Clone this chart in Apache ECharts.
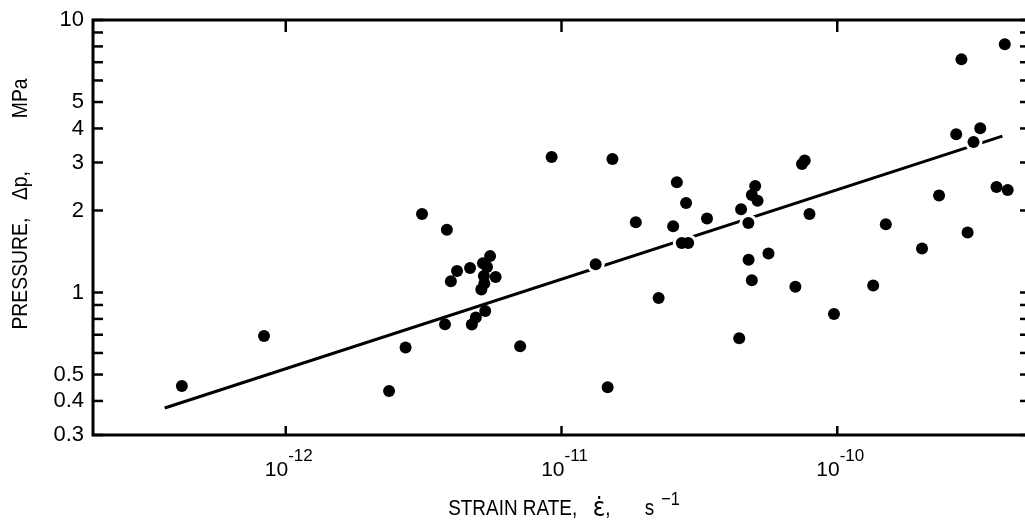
<!DOCTYPE html>
<html><head><meta charset="utf-8">
<script src="https://cdn.jsdelivr.net/npm/echarts@6/dist/echarts.min.js"></script>
<style>html,body{margin:0;padding:0;background:#fff}#c{width:1025px;height:525px}</style>
</head><body><div id="c"></div>
<script>
// ---- data (strain rate in s^-1, pressure in MPa) ----
const strainRate = [
  4.20e-13, 8.34e-13, 2.37e-12, 2.72e-12, 3.12e-12, 3.84e-12, 3.78e-12, 3.97e-12, 4.18e-12, 4.66e-12,
  4.73e-12, 4.89e-12, 5.29e-12, 5.12e-12, 5.25e-12, 5.23e-12, 5.77e-12, 5.37e-12, 5.19e-12, 5.51e-12,
  7.08e-12, 9.21e-12, 1.33e-11, 1.53e-11, 1.47e-11, 1.86e-11, 2.25e-11, 2.62e-11, 2.83e-11, 2.54e-11,
  2.73e-11, 2.88e-11, 3.37e-11, 4.48e-11, 4.41e-11, 5.04e-11, 4.90e-11, 5.14e-11, 4.76e-11, 4.77e-11,
  4.90e-11, 5.63e-11, 7.05e-11, 7.45e-11, 7.62e-11, 7.93e-11, 9.73e-11, 1.35e-10, 1.50e-10, 2.03e-10,
  2.34e-10, 2.70e-10, 2.82e-10, 2.97e-10, 3.12e-10, 3.30e-10, 3.78e-10, 4.05e-10, 4.15e-10
];
const pressure = [
  0.454, 0.692, 0.435, 0.628, 1.94, 1.70, 0.764, 1.10, 1.20, 1.23,
  0.763, 0.810, 0.855, 1.025, 1.08, 1.15, 1.14, 1.24, 1.28, 1.36,
  0.635, 3.14, 1.27, 3.09, 0.449, 1.81, 0.955, 2.54, 2.13, 1.75,
  1.52, 1.52, 1.87, 2.02, 0.679, 2.46, 2.28, 2.17, 1.80, 1.32,
  1.11, 1.39, 1.05, 2.96, 3.05, 1.94, 0.834, 1.06, 1.78, 1.45,
  2.27, 3.81, 7.17, 1.66, 3.57, 4.01, 2.44, 8.15, 2.38
];
const fitStrain = [3.64e-13, 3.97e-10];
const fitPressure = [0.377, 3.75];

const xTickValues = [1e-12, 1e-11, 1e-10];
const xTickExponents = ['-12', '-11', '-10'];
const yTickValues = [0.3, 0.4, 0.5, 0.6, 0.7, 0.8, 0.9, 1, 2, 3, 4, 5, 6, 7, 8, 9, 10];
const yLabelValues = [0.3, 0.4, 0.5, 1, 2, 3, 4, 5, 10];
const yLabelTexts = ['0.3', '0.4', '0.5', '1', '2', '3', '4', '5', '10'];
const X_MIN = 2e-13, X_MAX = 5e-10, Y_MIN = 0.3, Y_MAX = 10;

const FONT = 'Liberation Sans';
const points = strainRate.map((x, i) => [x, pressure[i]]);
const fitLine = fitStrain.map((x, i) => [x, fitPressure[i]]);

// points sitting on the fitted line get a white halo that breaks the line
const lx0 = Math.log10(fitStrain[0]), ly0 = Math.log10(fitPressure[0]);
const slope = (Math.log10(fitPressure[1]) - ly0) / (Math.log10(fitStrain[1]) - lx0);
const haloPoints = points.filter(p => {
  const d = Math.log10(p[1]) - (ly0 + slope * (Math.log10(p[0]) - lx0));
  return Math.abs(d) < 0.022 && p[0] > fitStrain[0] && p[0] < fitStrain[1];
});

const chart = echarts.init(document.getElementById('c'), null, {renderer: 'canvas'});
const hiddenAxis = {
  axisLine: {show: false}, axisTick: {show: false}, axisLabel: {show: false}, splitLine: {show: false}
};
chart.setOption({
  animation: false,
  backgroundColor: '#fff',
  grid: {left: 93, top: 20, right: -5, bottom: 90, show: true, borderColor: '#000', borderWidth: 3,
         containLabel: false, outerBoundsMode: 'none'},
  xAxis: Object.assign({type: 'log', logBase: 10, min: X_MIN, max: X_MAX}, hiddenAxis),
  yAxis: Object.assign({type: 'log', logBase: 10, min: Y_MIN, max: Y_MAX}, hiddenAxis),
  graphic: [
    {
      type: 'text', x: 564, y: 509, scaleX: 0.86, silent: true,
      style: {
        text: '{a|STRAIN RATE,}{g|}{e|ε̇}{a|,}{h|}{a|s}{k|}{s|−1}',
        align: 'center', verticalAlign: 'middle', fill: '#000',
        rich: {
          a: {fontSize: 22, fontFamily: FONT, lineHeight: 38, fill: '#000'},
          e: {fontSize: 27, fontFamily: 'DejaVu Sans', lineHeight: 38, fill: '#000'},
          g: {width: 18, lineHeight: 38},
          h: {width: 40, lineHeight: 38},
          k: {width: 8, lineHeight: 38},
          s: {fontSize: 19, fontFamily: FONT, lineHeight: 18, verticalAlign: 'top', fill: '#000'}
        }
      }
    },
    {
      type: 'text', x: 21, y: 204, rotation: Math.PI / 2, scaleX: 0.88, silent: true,
      style: {
        text: '{a|PRESSURE,}{g|}{a|Δp,}{h|}{a|MPa}',
        align: 'center', verticalAlign: 'middle', fill: '#000',
        rich: {
          a: {fontSize: 22, fontFamily: FONT, fill: '#000'},
          g: {width: 20},
          h: {width: 60}
        }
      }
    }
  ],
  series: [
    {
      type: 'line', data: fitLine, symbol: 'none', z: 2, silent: true,
      lineStyle: {color: '#000', width: 3}
    },
    {
      type: 'scatter', data: haloPoints, symbolSize: 18, z: 3, silent: true,
      itemStyle: {color: '#fff', opacity: 1}
    },
    {
      type: 'scatter', data: points, symbolSize: 12, z: 4, silent: true,
      itemStyle: {color: '#000', opacity: 1}
    },
    {
      // y-axis ticks (left and right, inward) and labels
      type: 'custom', coordinateSystem: 'cartesian2d', z: 10, silent: true,
      data: yTickValues.map(v => [X_MIN, v]),
      renderItem(params, api) {
        const cs = params.coordSys;
        const v = api.value(1);
        const y = api.coord([X_MIN, v])[1];
        const children = [
          {type: 'line', shape: {x1: cs.x, y1: y, x2: cs.x + 10, y2: y}, style: {stroke: '#000', lineWidth: 2.5}},
          {type: 'line', shape: {x1: cs.x + cs.width, y1: y, x2: cs.x + cs.width - 10, y2: y}, style: {stroke: '#000', lineWidth: 2.5}}
        ];
        const li = yLabelValues.indexOf(v);
        if (li >= 0) {
          children.push({type: 'text', style: {
            text: yLabelTexts[li], x: cs.x - 9, y: y, align: 'right', verticalAlign: 'middle',
            font: '22px "' + FONT + '"', fill: '#000'
          }});
        }
        return {type: 'group', children};
      }
    },
    {
      // x-axis ticks (bottom and top, inward) and labels
      type: 'custom', coordinateSystem: 'cartesian2d', z: 10, silent: true,
      data: xTickValues.map(v => [v, Y_MIN]),
      renderItem(params, api) {
        const cs = params.coordSys;
        const v = api.value(0);
        const x = api.coord([v, Y_MIN])[0];
        const i = xTickValues.indexOf(v);
        const bottom = cs.y + cs.height;
        return {type: 'group', children: [
          {type: 'line', shape: {x1: x, y1: bottom, x2: x, y2: bottom - 9}, style: {stroke: '#000', lineWidth: 2.5}},
          {type: 'line', shape: {x1: x, y1: cs.y, x2: x, y2: cs.y + 12}, style: {stroke: '#000', lineWidth: 2.5}},
          {type: 'text', style: {
            text: '{b|10}{s|' + xTickExponents[i] + '}', x: x + 3, y: bottom + 35,
            align: 'center', verticalAlign: 'middle', fill: '#000',
            rich: {
              b: {fontSize: 21, fontFamily: FONT, lineHeight: 44, fill: '#000'},
              s: {fontSize: 17, fontFamily: FONT, lineHeight: 17, verticalAlign: 'top', fill: '#000'}
            }
          }}
        ]};
      }
    }
  ]
});
</script></body></html>
